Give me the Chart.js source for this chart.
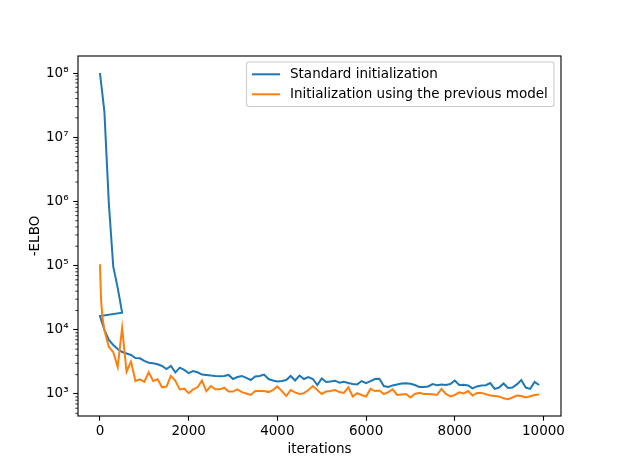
<!DOCTYPE html>
<html><head><meta charset="utf-8">
<script src="https://cdn.jsdelivr.net/npm/chart.js@4.4.1/dist/chart.umd.min.js"></script>
<style>html,body{margin:0;padding:0;background:#fff}#wrap{width:623px;height:467px}</style>
</head><body><div id="wrap"><canvas id="c" width="623" height="467"></canvas></div>
<script>
// ---- data ----
const warmupIterations = [0, 100, 200, 300, 400, 500];
const standardWarmup = [1.0e8, 2.5e7, 9.4e5, 9.6e4, 4.5e4, 1.85e4];
const iterations = [
 0,100,200,300,400,500,600,700,800,900,
 1000,1100,1200,1300,1400,1500,1600,1700,1800,1900,
 2000,2100,2200,2300,2400,2500,2600,2700,2800,2900,
 3000,3100,3200,3300,3400,3500,3600,3700,3800,3900,
 4000,4100,4200,4300,4400,4500,4600,4700,4800,4900,
 5000,5100,5200,5300,5400,5500,5600,5700,5800,5900,
 6000,6100,6200,6300,6400,6500,6600,6700,6800,6900,
 7000,7100,7200,7300,7400,7500,7600,7700,7800,7900,
 8000,8100,8200,8300,8400,8500,8600,8700,8800,8900,
 9000,9100,9200,9300,9400,9500,9600,9700,9800,9900];
const standardInit = [
 16400, 9930, 6940, 5800, 5020, 4510, 4280, 4050, 3640, 3600,
 3270, 3070, 3010, 2900, 2730, 2450, 2730, 2160, 2570, 2370,
 2120, 2280, 2180, 2010, 1980, 1940, 1910, 1890, 1910, 1980,
 1710, 1840, 1910, 1780, 1650, 1870, 1910, 2000, 1710, 1620,
 1570, 1590, 1650, 1910, 1620, 1940, 1710, 1840, 1710, 1380,
 1740, 1540, 1570, 1610, 1500, 1550, 1480, 1430, 1410, 1590,
 1480, 1590, 1710, 1730, 1330, 1290, 1360, 1410, 1460, 1470,
 1440, 1380, 1290, 1290, 1310, 1430, 1370, 1410, 1380, 1430,
 1620, 1380, 1390, 1360, 1220, 1310, 1360, 1370, 1480, 1200,
 1260, 1460, 1240, 1260, 1410, 1650, 1260, 1200, 1540, 1380];
// early points of the orange curve (the first 100 iterations bend)
const previousEarlyIterations = [0, 25, 55];
const previousEarly = [105000, 29000, 16000];
const previousModelInit = [
 105000, 9930, 5400, 4510, 2630, 10700, 2220, 3190, 1590, 1690,
 1550, 2180, 1590, 1690, 1270, 1300, 1910, 1610, 1180, 1210,
 1030, 1180, 1270, 1610, 1110, 1330, 1180, 1180, 1250, 1090,
 1090, 1180, 1070, 1020, 965, 1110, 1110, 1110, 1070, 1150,
 1310, 1110, 930, 1150, 1060, 1000, 1030, 1150, 1330, 1150,
 1000, 1090, 1110, 1150, 1070, 1040, 1270, 914, 1030, 965,
 914, 1200, 1110, 1130, 1000, 1070, 1180, 965, 982, 1000,
 882, 1000, 1040, 1000, 1000, 989, 965, 1200, 1000, 914,
 965, 1060, 1020, 1110, 947, 1040, 1040, 989, 947, 931,
 914, 856, 830, 882, 947, 931, 882, 922, 965, 982];
const xTicks = [0, 2000, 4000, 6000, 8000, 10000];
const yTicks = [1e3, 1e4, 1e5, 1e6, 1e7, 1e8];
const seriesLabels = ['Standard initialization', 'Initialization using the previous model'];
const seriesColors = ['#1f77b4', '#ff7f0e'];
const xTitle = 'iterations';
const yTitle = '-ELBO';

// ---- chart ----
const FONT = 'DejaVu Sans';
const FS = 13.5;
const SUP = {'0':'\u2070','1':'\u00b9','2':'\u00b2','3':'\u00b3','4':'\u2074','5':'\u2075','6':'\u2076','7':'\u2077','8':'\u2078','9':'\u2079'};
const yMinor = [];
for (const d of [1e2, ...yTicks]) for (let m = 2; m <= 9; m++) yMinor.push(d * m);

const blueData = warmupIterations.map((x, i) => ({x, y: standardWarmup[i]}))
  .concat(iterations.map((x, i) => ({x, y: standardInit[i]})));
const orangeData = previousEarlyIterations.map((x, i) => ({x, y: previousEarly[i]}))
  .concat(iterations.slice(1).map((x, i) => ({x, y: previousModelInit[i + 1]})));

const framePlugin = {
  id: 'frame',
  afterDraw(chart) {
    const {ctx, chartArea: a, scales: {y}} = chart;
    ctx.save();
    ctx.strokeStyle = '#000';
    ctx.lineWidth = 0.8;
    for (const v of yMinor) {
      if (v < y.min || v > y.max) continue;
      const p = y.getPixelForValue(v);
      ctx.beginPath(); ctx.moveTo(a.left, p); ctx.lineTo(a.left - 2.7, p); ctx.stroke();
    }
    ctx.lineWidth = 1.1;
    ctx.strokeRect(a.left, a.top, a.right - a.left, a.bottom - a.top);
    // legend
    const lx = 246.5, ly = 62, lw = 307.5, lh = 44.5, r = 2.7;
    ctx.beginPath();
    ctx.moveTo(lx + r, ly); ctx.lineTo(lx + lw - r, ly); ctx.arcTo(lx + lw, ly, lx + lw, ly + r, r);
    ctx.lineTo(lx + lw, ly + lh - r); ctx.arcTo(lx + lw, ly + lh, lx + lw - r, ly + lh, r);
    ctx.lineTo(lx + r, ly + lh); ctx.arcTo(lx, ly + lh, lx, ly + lh - r, r);
    ctx.lineTo(lx, ly + r); ctx.arcTo(lx, ly, lx + r, ly, r); ctx.closePath();
    ctx.fillStyle = 'rgba(255,255,255,0.8)'; ctx.fill();
    ctx.strokeStyle = '#cccccc'; ctx.lineWidth = 1.1; ctx.stroke();
    const rows = [74.3, 94.3];
    ctx.font = FS + 'px "' + FONT + '"';
    ctx.textBaseline = 'middle'; ctx.textAlign = 'left';
    seriesLabels.forEach((t, i) => {
      ctx.strokeStyle = seriesColors[i]; ctx.lineWidth = 2;
      ctx.beginPath(); ctx.moveTo(252, rows[i]); ctx.lineTo(280, rows[i]); ctx.stroke();
      ctx.fillStyle = '#000'; ctx.fillText(t, 290, rows[i]);
    });
    ctx.restore();
  }
};

new Chart(document.getElementById('c'), {
  type: 'line',
  data: {
    datasets: [
      {label: seriesLabels[0], data: blueData, borderColor: seriesColors[0], borderWidth: 2, pointRadius: 0, tension: 0, fill: false, order: 2},
      {label: seriesLabels[1], data: orangeData, borderColor: seriesColors[1], borderWidth: 2, pointRadius: 0, tension: 0, fill: false, order: 1}
    ]
  },
  options: {
    responsive: false, animation: false, devicePixelRatio: 1,
    layout: {padding: {left: 0, top: 56, right: 62, bottom: 0}},
    plugins: {legend: {display: false}, tooltip: {enabled: false}},
    scales: {
      x: {
        type: 'linear', min: -495, max: 10395,
        afterBuildTicks: s => { s.ticks = xTicks.map(v => ({value: v})); },
        afterFit: s => { s.height = 51; },
        ticks: {autoSkip: false, maxRotation: 0, padding: 3, color: '#000', font: {family: FONT, size: FS},
          callback: v => String(v)},
        grid: {display: true, drawOnChartArea: false, drawTicks: true, tickLength: 4.7, tickColor: '#000', tickWidth: 1.1},
        border: {display: false},
        title: {display: true, text: xTitle, color: '#000', font: {family: FONT, size: FS}, padding: {top: 0, bottom: 9}}
      },
      y: {
        type: 'logarithmic', min: 454, max: 1.84e8,
        afterBuildTicks: s => { s.ticks = yTicks.map(v => ({value: v})); },
        afterFit: s => { s.width = 78; },
        ticks: {autoSkip: false, padding: 4.7, color: '#000', font: {family: FONT, size: FS},
          callback: v => '10' + String(Math.round(Math.log10(v))).split('').map(c => SUP[c]).join('')},
        grid: {display: true, drawOnChartArea: false, drawTicks: true, tickLength: 4.7, tickColor: '#000', tickWidth: 1.1},
        border: {display: false},
        title: {display: true, text: yTitle, color: '#000', font: {family: FONT, size: FS}, padding: {top: 27, bottom: 0}}
      }
    }
  },
  plugins: [framePlugin]
});
</script></body></html>
